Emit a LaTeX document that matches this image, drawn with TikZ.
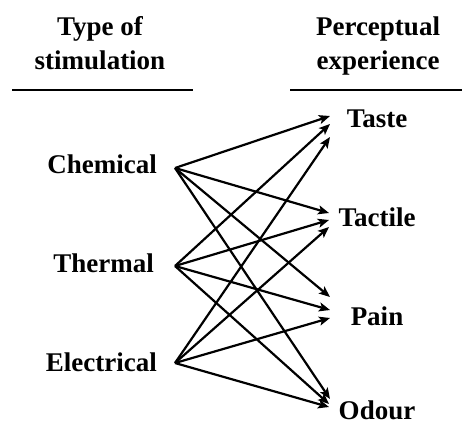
\documentclass[tikz,border=0pt]{standalone}
\usepackage{fontspec}
\setmainfont{Liberation Serif}
\usetikzlibrary{arrows.meta}
\tikzset{
  lbl/.style={inner sep=0pt, font=\fontsize{27}{30}\selectfont\bfseries},
  conn/.style={line width=2.2pt, -{Stealth[length=11pt,width=9pt,inset=2.5pt]}},
  rulebar/.style={line width=2.8pt}
}
\begin{document}
\begin{tikzpicture}[x=1pt,y=-1pt]
\useasboundingbox (0,0) rectangle (462,425);
% headers
\node[lbl, anchor=base] (h1a) at (100,36) {Type of};
\node[lbl, anchor=base] (h1b) at (100,70) {stimulation};
\node[lbl, anchor=base] (h2a) at (378,36) {Perceptual};
\node[lbl, anchor=base] (h2b) at (378,70) {experience};
\coordinate (r1a) at (12,90);
\coordinate (r1b) at (193,90);
\coordinate (r2a) at (290,90);
\coordinate (r2b) at (462,90);
\draw[rulebar] (r1a) -- (r1b);
\draw[rulebar] (r2a) -- (r2b);
% sources
\node[lbl, anchor=base east] (chem) at (157,173) {Chemical};
\node[lbl, anchor=base east] (therm) at (154,272) {Thermal};
\node[lbl, anchor=base east] (elec) at (157,371) {Electrical};
\coordinate (cO) at (175,168);
\coordinate (tO) at (175,266);
\coordinate (eO) at (175,363);
% targets
\node[lbl, anchor=base] (taste) at (377,127) {Taste};
\node[lbl, anchor=base] (tact) at (377,226) {Tactile};
\node[lbl, anchor=base] (pain) at (377,325) {Pain};
\node[lbl, anchor=base] (odour) at (377,419) {Odour};
% tips
\coordinate (ta1) at (330,116);
\coordinate (ta2) at (330,124);
\coordinate (ta3) at (330,137);
\coordinate (tc1) at (329,213);
\coordinate (tc2) at (329,220);
\coordinate (tc3) at (329,227);
\coordinate (pa1) at (330,297);
\coordinate (pa2) at (330,310);
\coordinate (pa3) at (330,318);
\coordinate (od1) at (330,399);
\coordinate (od2) at (329,404);
\coordinate (od3) at (329,407);
% connectors
\draw[conn] (cO) -- (ta1);
\draw[conn] (cO) -- (tc1);
\draw[conn] (cO) -- (pa1);
\draw[conn] (cO) -- (od1);
\draw[conn] (tO) -- (ta2);
\draw[conn] (tO) -- (tc2);
\draw[conn] (tO) -- (pa2);
\draw[conn] (tO) -- (od2);
\draw[conn] (eO) -- (ta3);
\draw[conn] (eO) -- (tc3);
\draw[conn] (eO) -- (pa3);
\draw[conn] (eO) -- (od3);
\end{tikzpicture}
\end{document}
